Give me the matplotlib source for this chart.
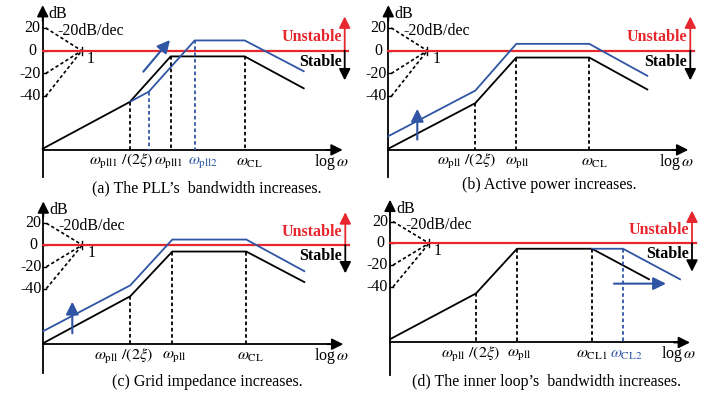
import matplotlib
matplotlib.use("Agg")
import matplotlib.pyplot as plt

plt.rcParams["font.family"] = ["Liberation Serif", "DejaVu Serif"]
plt.rcParams["mathtext.fontset"] = "stix"

BLUE = "#2f55a4"
RED = "#e8262d"
W, H = 718, 396

# x = position along the log(omega) axis (px right of the dB axis), y = gain in dB
a_black_x = [0, 87, 128, 202, 261]
a_black_db = [-86, -45, -5, -5, -33]
a_blue_x = [87, 106, 152, 202, 261]
a_blue_db = [-45, -36, 9, 9, -18]
a_black_marks = [87, 128, 202]
a_blue_marks = [106, 152]
a_labels = [r"$\omega_{\rm pll1}\ /(2\xi)$", r"$\omega_{\rm pll1}$", r"$\omega_{\rm pll2}$", r"$\omega_{\rm CL}$"]
a_label_x = [79, 126, 160, 207]
a_label_col = ["k", "k", BLUE, "k"]

b_black_x = [0, 87, 128, 201, 259]
b_black_db = [-86, -46, -6, -6, -34]
b_blue_x = [0, 87, 128, 201, 259]
b_blue_db = [-75, -35, 6, 6, -22]
b_black_marks = [87, 128, 201]
b_labels = [r"$\omega_{\rm pll}\ /(2\xi)$", r"$\omega_{\rm pll}$", r"$\omega_{\rm CL}$"]
b_label_x = [78, 129, 206]

c_black_x = [0, 87, 129, 203, 261]
c_black_db = [-90, -47, -6, -6, -34]
c_blue_x = [0, 87, 129, 203, 261]
c_blue_db = [-79, -37, 5, 5, -24]
c_black_marks = [87, 129, 203]
c_labels = [r"$\omega_{\rm pll}\ /(2\xi)$", r"$\omega_{\rm pll}$", r"$\omega_{\rm CL}$"]
c_label_x = [80, 131, 207]

d_black_x = [0, 86, 127, 202, 259]
d_black_db = [-88, -46, -5, -5, -33]
d_blue_x = [202, 233, 290]
d_blue_db = [-5, -5, -33]
d_black_marks = [86, 127, 202]
d_blue_marks = [233]
d_labels = [r"$\omega_{\rm pll}\ /(2\xi)$", r"$\omega_{\rm pll}$", r"$\omega_{\rm CL1}$", r"$\omega_{\rm CL2}$"]
d_label_x = [80, 129, 202, 236]
d_label_col = ["k", "k", "k", BLUE]

db_ticks = [20, 0, -20, -40]
db_tick_text = ["20", "0", "-20", "-40"]

FS = 11.5
fig = plt.figure(figsize=(W / 100, H / 100), dpi=100)


def arrow(ax, p0, p1, color, lw=1.3, ms=17):
    ax.annotate("", xy=p1, xytext=p0,
                arrowprops=dict(arrowstyle="-|>", color=color, lw=lw,
                                mutation_scale=ms, shrinkA=0, shrinkB=0))


def panel(ox, zy, k, axis_db, bottom_db, black_x, black_db, blue_x, blue_db,
          black_marks, blue_marks, labels, label_x, label_col, caption, cap_xy):
    ax = fig.add_axes([0, 0, 1, 1])
    ax.set_xlim(-ox, W - ox)
    ax.set_ylim((zy - H) / k, zy / k)
    ax.axis("off")
    px = 1 / k  # one pixel in dB

    # axes with arrows
    ax.plot([0, 0], [bottom_db, 30], color="k", lw=1.3)
    arrow(ax, (0, 26), (0, 40), "k")
    ax.plot([0, 290], [axis_db, axis_db], color="k", lw=1.3)
    arrow(ax, (284, axis_db), (300, axis_db), "k")
    ax.text(6, 40 - 1 * px, "dB", fontsize=FS, ha="left", va="top")
    ax.text(271, axis_db - 12 * px, r"log$\,\omega$", fontsize=FS, ha="left", va="center")

    # dB ticks
    for v, t in zip(db_ticks, db_tick_text):
        ax.plot([0, 3], [v, v], color="k", lw=1)
        ax.text(-6 if v == 0 else -2, v, t, fontsize=FS, ha="right", va="center")
    # slope guide lines
    for v in [20, -20, -40]:
        ax.plot([3, 39], [v, 0], color="k", lw=1.2, ls=(0, (2, 1.5)))
    ax.plot([39, 39], [4 * px, -4 * px], color="k", lw=1)
    ax.text(44, -7, "1", fontsize=FS, ha="left", va="center")
    ax.text(15, 17, "-20dB/dec", fontsize=FS, ha="left", va="center")

    # stability boundary
    ax.plot([0, 305.5], [0, 0], color=RED, lw=1.6)
    arrow(ax, (302, 0), (302, 30), RED)
    arrow(ax, (302, 0), (302, -26), "k")
    ax.text(299, 12, "Unstable", color=RED, fontsize=FS, fontweight="bold", ha="right", va="center")
    ax.text(299, -10, "Stable", color="k", fontsize=FS, fontweight="bold", ha="right", va="center")

    # asymptotic curves
    ax.plot(black_x, black_db, color="k", lw=1.3)
    ax.plot(blue_x, blue_db, color=BLUE, lw=1.3)
    for m in black_marks:
        y = black_db[black_x.index(m)]
        ax.plot([m, m], [y, axis_db], color="k", lw=1.3, ls=(0, (2, 1.5)))
    for m in blue_marks:
        y = blue_db[blue_x.index(m)]
        ax.plot([m, m], [y, axis_db], color=BLUE, lw=1.3, ls=(0, (2, 1.5)))
    for t, x, c in zip(labels, label_x, label_col):
        ax.text(x, axis_db - 12 * px, t, color=c, fontsize=11.5, ha="center", va="center")

    fig.text(cap_xy[0] / W, 1 - cap_xy[1] / H, caption, fontsize=FS, ha="center", va="center")
    return ax


ax_a = panel(42.7, 50.7, 1.14, -87, -111, a_black_x, a_black_db, a_blue_x, a_blue_db,
             a_black_marks, a_blue_marks, a_labels, a_label_x, a_label_col,
             "(a) The PLL\u2019s  bandwidth increases.", (207, 188))
arrow(ax_a, (100.6, -18.4), (127.3, 9.4), BLUE, lw=1.5, ms=19)

ax_b = panel(388.3, 50.7, 1.14, -87, -111, b_black_x, b_black_db, b_blue_x, b_blue_db,
             b_black_marks, [], b_labels, b_label_x, ["k"] * 3,
             "(b) Active power increases.", (549, 185))
arrow(ax_b, (29, -78), (29, -51), BLUE, lw=1.5, ms=19)

ax_c = panel(43.3, 245, 1.09, -91, -117, c_black_x, c_black_db, c_blue_x, c_blue_db,
             c_black_marks, [], c_labels, c_label_x, ["k"] * 3,
             "(c) Grid impedance increases.", (207, 382))
arrow(ax_c, (29, -81), (29, -52), BLUE, lw=1.5, ms=19)

ax_d = panel(390, 243.3, 1.09, -91, -121, d_black_x, d_black_db, d_blue_x, d_blue_db,
             d_black_marks, d_blue_marks, d_labels, d_label_x, d_label_col,
             "(d) The inner loop\u2019s  bandwidth increases.", (547, 382))
arrow(ax_d, (224, -37), (276, -37), BLUE, lw=1.5, ms=19)

fig.savefig("out.png", dpi=100)
